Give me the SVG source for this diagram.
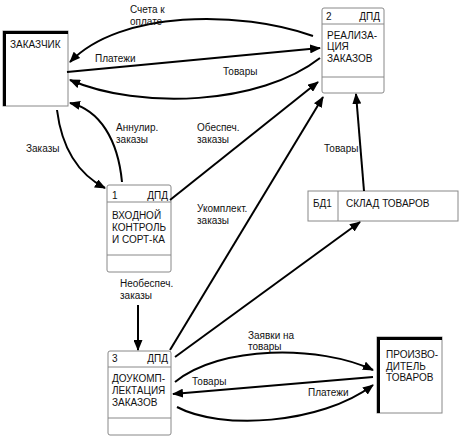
<svg xmlns="http://www.w3.org/2000/svg" width="462" height="441" viewBox="0 0 462 441">
<defs>
<marker id="arr" markerUnits="userSpaceOnUse" markerWidth="11" markerHeight="9" refX="10" refY="4.5" orient="auto">
<path d="M0,0 L11,4.5 L0,9 z" fill="#000"/>
</marker>
<style>
text{font-family:"Liberation Sans",Arial,sans-serif;font-size:10px;fill:#111}
.box{fill:#fff;stroke:#888;stroke-width:1}
.thin{stroke:#888;stroke-width:1;fill:none}
.thick{stroke:#000;stroke-width:3;fill:none}
.c{fill:none;stroke:#000;stroke-width:2;marker-end:url(#arr)}
.r{text-anchor:end}
</style>
</defs>
<rect width="462" height="441" fill="#fff"/>

<g id="zakazchik">
<rect class="box" x="3" y="31" width="65" height="75"/>
<path class="thick" d="M4.5,106 V32.5 H68"/>
<text x="10" y="48">ЗАКАЗЧИК</text>
</g>

<g id="node2">
<rect class="box" x="322" y="8" width="62" height="85" rx="2"/>
<line class="thin" x1="322" y1="24" x2="384" y2="24"/>
<line class="thin" x1="322" y1="77" x2="384" y2="77"/>
<text x="326" y="20">2</text>
<text class="r" x="380" y="20">ДПД</text>
<text x="327" y="39">РЕАЛИЗА-</text>
<text x="327" y="50">ЦИЯ</text>
<text x="327" y="62">ЗАКАЗОВ</text>
</g>

<g id="node1">
<rect class="box" x="107" y="185" width="64" height="87" rx="2"/>
<line class="thin" x1="107" y1="202" x2="171" y2="202"/>
<line class="thin" x1="107" y1="255" x2="171" y2="255"/>
<text x="112" y="199">1</text>
<text class="r" x="168" y="199">ДПД</text>
<text x="112" y="219">ВХОДНОЙ</text>
<text x="112" y="231">КОНТРОЛЬ</text>
<text x="112" y="243">И СОРТ-КА</text>
</g>

<g id="node3">
<rect class="box" x="108" y="351" width="63" height="84" rx="2"/>
<line class="thin" x1="108" y1="367" x2="171" y2="367"/>
<line class="thin" x1="108" y1="418" x2="171" y2="418"/>
<text x="112" y="362">3</text>
<text class="r" x="168" y="362">ДПД</text>
<text x="112" y="382">ДОУКОМП-</text>
<text x="112" y="394">ЛЕКТАЦИЯ</text>
<text x="112" y="406">ЗАКАЗОВ</text>
</g>

<g id="bd1">
<rect class="box" x="308" y="191" width="150" height="30"/>
<line class="thin" x1="338" y1="191" x2="338" y2="221"/>
<text x="313" y="207">БД1</text>
<text x="346" y="207">СКЛАД ТОВАРОВ</text>
</g>

<g id="proizvoditel">
<rect class="box" x="377" y="337" width="65" height="76"/>
<path class="thick" d="M378.5,413 V338.5 H442"/>
<text x="386" y="358">ПРОИЗВО-</text>
<text x="386" y="370">ДИТЕЛЬ</text>
<text x="386" y="381">ТОВАРОВ</text>
</g>

<g id="connectors">
<path class="c" d="M313,36 C240,10 120,10 70,62"/>
<path class="c" d="M67,72 L320,48"/>
<path class="c" d="M320,58 C260,105 140,110 70,80"/>
<path class="c" d="M57,110 C62,150 80,175 105,188"/>
<path class="c" d="M122,182 C118,140 100,110 70,103"/>
<path class="c" d="M170,200 L318,82"/>
<path class="c" d="M170,350 L323,97"/>
<path class="c" d="M175,357 L360,222"/>
<path class="c" d="M364,191 L356,94"/>
<path class="c" d="M175,382 C220,345 320,345 373,370"/>
<path class="c" d="M373,377 L173,394"/>
<path class="c" d="M177,407 C220,430 320,425 373,385"/>
<path class="c" d="M138,305 L138,350"/>
</g>

<g id="labels">
<text x="130" y="13">Счета к</text>
<text x="130" y="25">оплате</text>
<text x="95" y="62">Платежи</text>
<text x="223" y="75">Товары</text>
<text x="26" y="152">Заказы</text>
<text x="116" y="131">Аннулир.</text>
<text x="116" y="143">заказы</text>
<text x="197" y="131">Обеспеч.</text>
<text x="197" y="143">заказы</text>
<text x="197" y="212">Укомплект.</text>
<text x="197" y="224">заказы</text>
<text x="324" y="152">Товары</text>
<text x="120" y="287">Необеспеч.</text>
<text x="120" y="299">заказы</text>
<text x="248" y="339">Заявки на</text>
<text x="248" y="350">товары</text>
<text x="192" y="385">Товары</text>
<text x="308" y="396">Платежи</text>
</g>
</svg>
